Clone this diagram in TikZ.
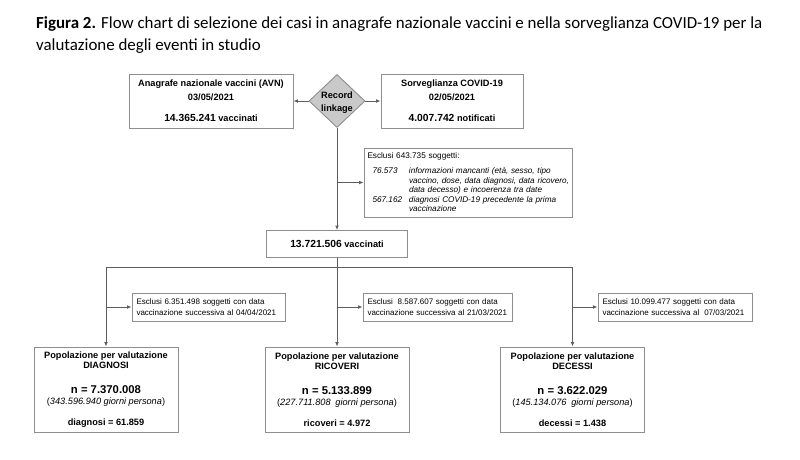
\documentclass[tikz,border=0pt]{standalone}
\usepackage{fontspec}
\setmainfont{Liberation Sans}
\newfontfamily\titlefont{Carlito}
\usetikzlibrary{shapes.geometric,arrows.meta}
\setlength{\parindent}{0pt}
\definecolor{lineC}{HTML}{5E5E5E}
\definecolor{boxC}{HTML}{8E8E8E}
\definecolor{diaF}{HTML}{C9C9C9}
\begin{document}
\begin{tikzpicture}[x=1pt,y=-1pt,
  box/.style={draw=boxC, line width=0.9pt, inner sep=0pt, align=center, text=black},
  conn/.style={draw=lineC, line width=0.9pt},
  arr/.style={conn, -{Latex[length=4.5pt,width=3.8pt]}},
  topf/.style={font=\bfseries\fontsize{9.2}{13.7}\selectfont},
  botf/.style={font=\fontsize{9.2}{10}\selectfont},
  exf/.style={font=\fontsize{8}{11}\selectfont, align=left, inner xsep=4.5pt, inner ysep=0pt}
]
\useasboundingbox[fill=white] (0,0) rectangle (800,459);

% title (base anchor = last line)
\node[anchor=base west, inner sep=0pt, align=left, font=\titlefont\fontsize{16.9}{22}\selectfont] (title) at (36,50)
  {\textbf{Figura 2.} Flow chart di selezione dei casi in anagrafe nazionale vaccini e nella sorveglianza COVID-19 per la\\valutazione degli eventi in studio};

% top row
\node[box, topf, minimum width=164pt, minimum height=54pt] (avn) at (211,101)
  {Anagrafe nazionale vaccini (AVN)\\03/05/2021\\[7.7pt]{\fontsize{10.3}{12}\selectfont 14.365.241} vaccinati};
\node[box, topf, minimum width=142pt, minimum height=54pt] (sorv) at (452,101)
  {Sorveglianza COVID-19\\02/05/2021\\[7.7pt]{\fontsize{10.3}{12}\selectfont 4.007.742} notificati};
\node[diamond, draw=boxC, fill=diaF, line width=0.9pt, minimum width=56pt, minimum height=53pt, inner sep=0pt] (rl) at (337,101) {};
\node[align=center, inner sep=0pt, font=\bfseries\fontsize{9.2}{12.3}\selectfont] (rltext) at ([yshift=-1.5pt]rl.center) {Record\\linkage};

% first exclusion
\node[box, font=\fontsize{8.2}{9.5}\selectfont, align=left, text width=201pt, inner xsep=3.5pt, minimum height=69pt] (excl0) at (468,182.5)
  {\mbox{Esclusi 643.735 soggetti:}\\[5.5pt]
   \itshape\mbox{\hspace*{5pt}\makebox[36.5pt][l]{76.573}informazioni mancanti (età, sesso, tipo}\\
   \mbox{\hspace*{41.5pt}vaccino, dose, data diagnosi, data ricovero,}\\
   \mbox{\hspace*{41.5pt}data decesso) e incoerenza tra date}\\
   \mbox{\hspace*{5pt}\makebox[36.5pt][l]{567.162}diagnosi COVID-19 precedente la prima}\\
   \mbox{\hspace*{41.5pt}vaccinazione}};

% total
\node[box, font=\bfseries\fontsize{9.2}{11}\selectfont, minimum width=141pt, minimum height=27pt] (tot) at (337,244)
  {{\fontsize{10.3}{12}\selectfont 13.721.506} vaccinati};

% exclusions second row
\node[box, exf, text width=144pt, minimum height=28pt] (excl1) at (208.5,307)
  {Esclusi 6.351.498 soggetti con data\\vaccinazione successiva al 04/04/2021};
\node[box, exf, text width=140pt, minimum height=28pt] (excl2) at (437.5,307)
  {Esclusi\hspace{2.2pt} 8.587.607 soggetti con data\\vaccinazione successiva al 21/03/2021};
\node[box, exf, text width=145pt, minimum height=28pt] (excl3) at (675,307)
  {Esclusi 10.099.477 soggetti con data\\vaccinazione successiva al\hspace{2.2pt} 07/03/2021};

% populations
\node[box, botf, minimum width=144pt, minimum height=85pt] (diag) at (106,389.5)
  {\textbf{Popolazione per valutazione}\\\textbf{DIAGNOSI}\\[14.7pt]{\bfseries\fontsize{11.3}{13}\selectfont n = 7.370.008}\\[1.2pt](\textit{343.596.940 giorni persona})\\[10.8pt]\textbf{diagnosi = 61.859}};
\node[box, botf, minimum width=144pt, minimum height=85pt] (ric) at (337,389.5)
  {\textbf{Popolazione per valutazione}\\\textbf{RICOVERI}\\[14.7pt]{\bfseries\fontsize{11.3}{13}\selectfont n = 5.133.899}\\[1.2pt](\textit{227.711.808\hspace{2.2pt} giorni persona})\\[10.8pt]\textbf{ricoveri = 4.972}};
\node[box, botf, minimum width=144pt, minimum height=85pt] (dec) at (572.5,389.5)
  {\textbf{Popolazione per valutazione}\\\textbf{DECESSI}\\[14.7pt]{\bfseries\fontsize{11.3}{13}\selectfont n = 3.622.029}\\[1.2pt](\textit{145.134.076\hspace{2.2pt} giorni persona})\\[10.8pt]\textbf{decessi = 1.438}};

% connectors
\draw[arr] (rl.west) -- (avn.east);
\draw[arr] (rl.east) -- (sorv.west);
\draw[arr] (rl.south) -- (tot.north);
\draw[arr] (rl.south |- excl0.west) -- (excl0.west);
\coordinate (hub) at (337,267);
\draw[arr] (tot.south) -- (ric.north);
\draw[arr] (hub) -| (diag.north);
\draw[arr] (hub) -| (dec.north);
\draw[arr] (diag.north |- excl1.west) -- (excl1.west);
\draw[arr] (ric.north |- excl2.west) -- (excl2.west);
\draw[arr] (dec.north |- excl3.west) -- (excl3.west);
\end{tikzpicture}
\end{document}
